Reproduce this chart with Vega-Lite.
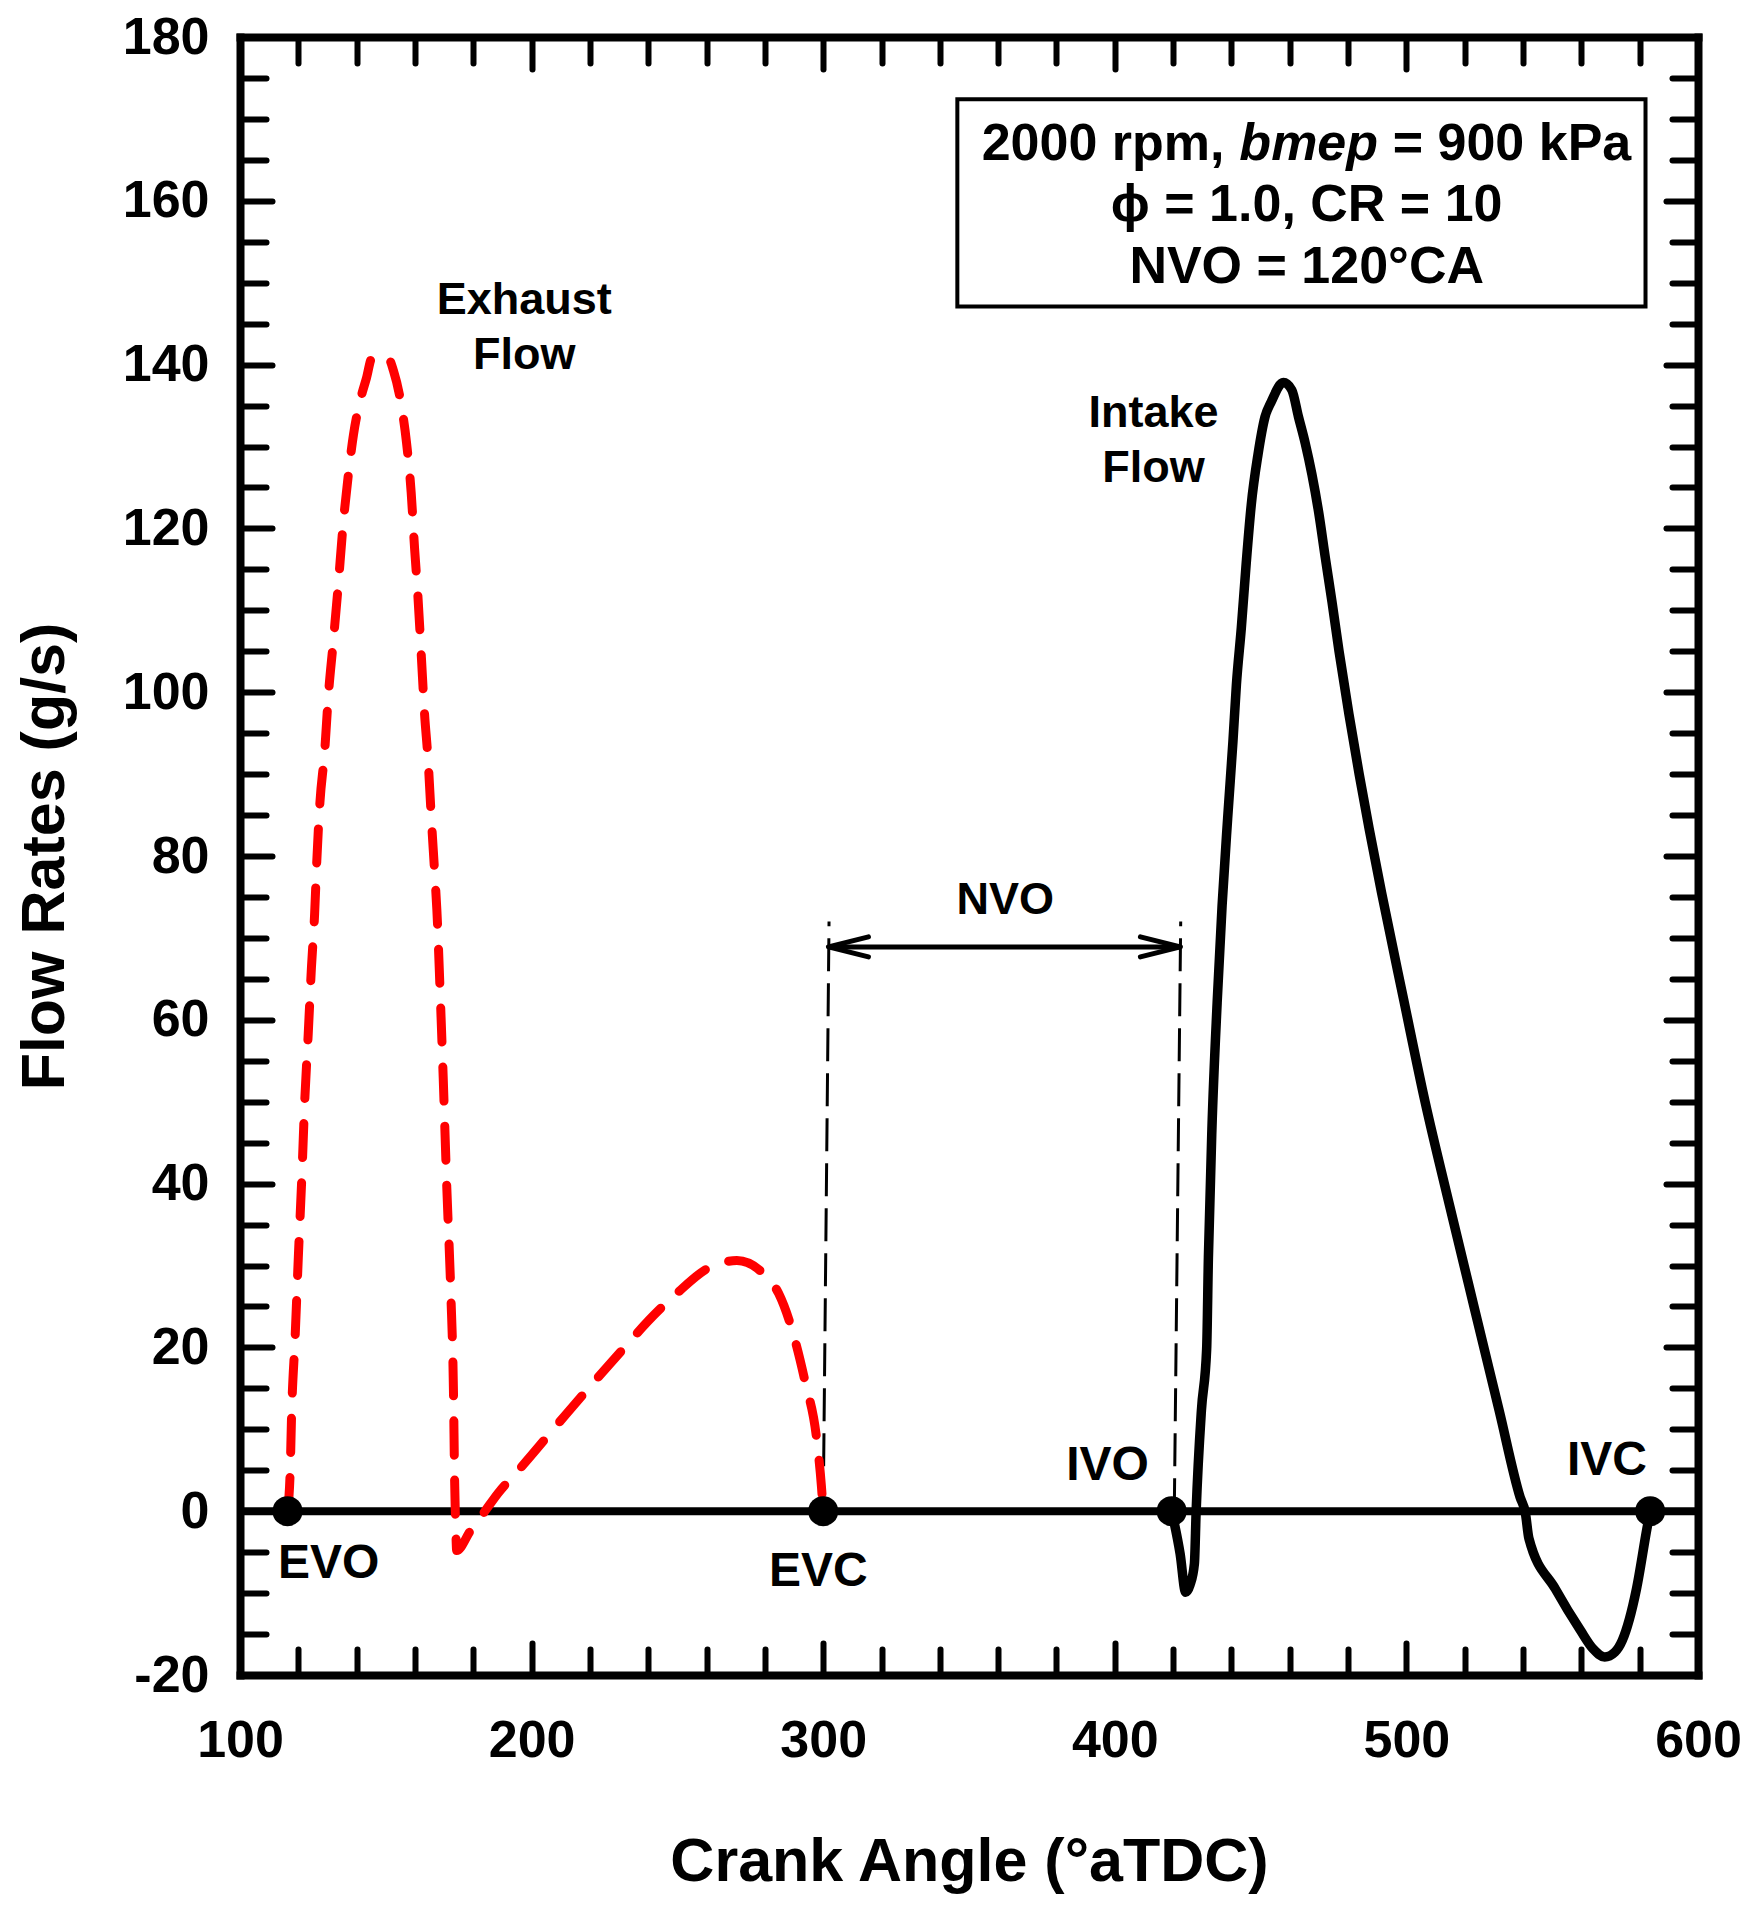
{
  "$schema": "https://vega.github.io/schema/vega-lite/v6.json",
  "width": 1458,
  "height": 1638,
  "autosize": "none",
  "padding": {"left": 240, "top": 37, "right": 59, "bottom": 233},
  "background": "white",
  "config": {
    "view": {"stroke": null},
    "axis": {
      "grid": false,
      "domainColor": "black",
      "domainWidth": 8,
      "domainCap": "square",
      "tickColor": "black",
      "tickWidth": 6,
      "tickCap": "round",
      "labelColor": "black",
      "labelFont": "Liberation Sans",
      "labelFontSize": 52,
      "labelFontWeight": "bold",
      "titleColor": "black",
      "titleFont": "Liberation Sans",
      "titleFontSize": 61,
      "titleFontWeight": "bold",
      "labelOverlap": false,
      "labelFlush": false,
      "labelBound": false
    },
    "text": {"font": "Liberation Sans", "fontWeight": "bold", "color": "black", "baseline": "middle"}
  },
  "datasets": {
    "exhaust": [
      {"angle":116.3,"flow":0},{"angle":117.2,"flow":4.8},{"angle":117.7,"flow":11.9},{"angle":118.9,"flow":21.2},{"angle":120,"flow":31},{"angle":121.2,"flow":40.8},{"angle":122.2,"flow":50.1},{"angle":123.4,"flow":58.3},{"angle":124.5,"flow":66.4},{"angle":125.6,"flow":73},{"angle":126.3,"flow":79.1},{"angle":127.4,"flow":86.5},{"angle":129,"flow":92.6},{"angle":130.3,"flow":99.6},{"angle":132,"flow":106.2},{"angle":133.6,"flow":112.7},{"angle":135.3,"flow":120.2},{"angle":137.2,"flow":126.7},{"angle":138.9,"flow":131.4},{"angle":141.2,"flow":135.6},{"angle":143.4,"flow":138.4},{"angle":145.2,"flow":140.8},{"angle":148,"flow":141.1},{"angle":150.9,"flow":140.8},{"angle":152.6,"flow":139.3},{"angle":155.3,"flow":135.1},{"angle":157.1,"flow":130.5},{"angle":158.7,"flow":124.4},{"angle":159.9,"flow":117.4},{"angle":161,"flow":111.8},{"angle":162.2,"flow":104.3},{"angle":163.3,"flow":97.3},{"angle":164.5,"flow":91.7},{"angle":165.6,"flow":84.7},{"angle":166.8,"flow":77.7},{"angle":167.5,"flow":73.5},{"angle":168.6,"flow":63.7},{"angle":169.7,"flow":52.8},{"angle":170.9,"flow":39.7},{"angle":172.3,"flow":26.6},{"angle":173.2,"flow":14.7},{"angle":173.6,"flow":3.8},{"angle":174,"flow":-2.2},{"angle":174.3,"flow":-4.8},{"angle":179,"flow":-2.4},{"angle":184,"flow":0},{"angle":188.5,"flow":2.2},{"angle":196,"flow":5.2},{"angle":211.5,"flow":11.7},{"angle":226.9,"flow":18},{"angle":243.5,"flow":24.5},{"angle":249.8,"flow":26.6},{"angle":261.2,"flow":29.8},{"angle":270.4,"flow":30.6},{"angle":279.5,"flow":29},{"angle":284.7,"flow":26.6},{"angle":289.2,"flow":22.3},{"angle":293.8,"flow":15.8},{"angle":297.8,"flow":8.7},{"angle":299.4,"flow":3},{"angle":300,"flow":0}
    ],
    "intake": [
      {"angle":419.5,"flow":0},{"angle":422.4,"flow":-5.2},{"angle":424.3,"flow":-9.9},{"angle":425.8,"flow":-9},{"angle":427.3,"flow":-6.4},{"angle":427.9,"flow":0},{"angle":429.7,"flow":12.3},{"angle":431.5,"flow":19.8},{"angle":432.1,"flow":31},{"angle":433.3,"flow":46.6},{"angle":435.1,"flow":62.1},{"angle":436.8,"flow":74},{"angle":438.7,"flow":84.6},{"angle":440.5,"flow":93.9},{"angle":441.7,"flow":100.9},{"angle":443.4,"flow":107.9},{"angle":445.1,"flow":115.9},{"angle":446.8,"flow":122.9},{"angle":449.1,"flow":129},{"angle":451.5,"flow":133.6},{"angle":453.7,"flow":135.5},{"angle":457.8,"flow":137.8},{"angle":460.7,"flow":136.9},{"angle":463,"flow":133.6},{"angle":465.3,"flow":130.4},{"angle":467.6,"flow":126.6},{"angle":469.9,"flow":122},{"angle":472.2,"flow":116.4},{"angle":474.5,"flow":111},{"angle":476.9,"flow":105},{"angle":480.3,"flow":97.3},{"angle":483.8,"flow":90},{"angle":487.3,"flow":83.2},{"angle":491.5,"flow":75.5},{"angle":499.1,"flow":62.4},{"angle":506.4,"flow":50},{"angle":514.9,"flow":37.2},{"angle":523.3,"flow":24.8},{"angle":531.8,"flow":12.3},{"angle":539,"flow":1.7},{"angle":540.8,"flow":-0.2},{"angle":542,"flow":-3.3},{"angle":551.1,"flow":-9.5},{"angle":559.6,"flow":-14.5},{"angle":564,"flow":-16.8},{"angle":568,"flow":-17.8},{"angle":571.5,"flow":-17.2},{"angle":574,"flow":-15.8},{"angle":578.9,"flow":-9.5},{"angle":582.5,"flow":-2.1},{"angle":583.6,"flow":0}
    ],
    "zero": [{"a1":100,"a2":600,"f":0}],
    "markers": [{"a1":300,"a2":302,"f1":0,"f2":72},{"a1":420.4,"a2":422.6,"f1":0,"f2":72}],
    "arrow": [{"a1":301.8,"a2":422.5,"f":68.9}],
    "heads": [{"angle":301.8,"flow":68.9,"dir":"left"},{"angle":422.5,"flow":68.9,"dir":"right"}],
    "dots": [{"angle":116.3,"flow":0},{"angle":300,"flow":0},{"angle":419.5,"flow":0},{"angle":583.6,"flow":0}],
    "box": [{"a1":346,"a2":582,"f1":147.1,"f2":172.4}],
    "annot": [
      {"angle":197.5,"flow":147.9,"label":"Exhaust"},
      {"angle":197.5,"flow":141.2,"label":"Flow"},
      {"angle":413.3,"flow":134.1,"label":"Intake"},
      {"angle":413.3,"flow":127.4,"label":"Flow"},
      {"angle":362.4,"flow":74.6,"label":"NVO"}
    ],
    "events": [
      {"angle":130.4,"flow":-6.5,"label":"EVO"},
      {"angle":298.3,"flow":-7.4,"label":"EVC"},
      {"angle":397.5,"flow":5.5,"label":"IVO"},
      {"angle":568.75,"flow":6.1,"label":"IVC"}
    ],
    "boxcenter": [
      {"angle":465.8,"flow":159.5,"label":"ϕ = 1.0, CR = 10"},
      {"angle":465.8,"flow":151.9,"label":"NVO = 120°CA"}
    ],
    "boxleft": [{"angle":437.6,"flow":166.9,"label":"2000 rpm,"}],
    "boxitalic": [{"angle":466.5,"flow":166.9,"label":"bmep"}],
    "boxright": [{"angle":495.3,"flow":166.9,"label":"= 900 kPa"}]
  },
  "resolve": {"axis": {"x": "independent", "y": "independent"}},
  "layer": [
    {
      "data": {"name": "box"},
      "mark": {"type": "rect", "fill": "white", "stroke": "black", "strokeWidth": 4},
      "encoding": {
        "x": {"field": "a1", "type": "quantitative", "scale": {"domain": [100, 600], "nice": false, "zero": false}, "axis": null},
        "x2": {"field": "a2"},
        "y": {"field": "f1", "type": "quantitative", "scale": {"domain": [-20, 180], "nice": false, "zero": false}, "axis": null},
        "y2": {"field": "f2"}
      }
    },
    {
      "data": {"name": "zero"},
      "mark": {"type": "rule", "color": "black", "strokeWidth": 8},
      "encoding": {
        "x": {"field": "a1", "type": "quantitative", "scale": {"domain": [100, 600], "nice": false, "zero": false}, "axis": null},
        "x2": {"field": "a2"},
        "y": {"field": "f", "type": "quantitative", "scale": {"domain": [-20, 180], "nice": false, "zero": false}, "axis": null}
      }
    },
    {
      "data": {"name": "markers"},
      "mark": {"type": "rule", "color": "black", "strokeWidth": 3, "strokeDash": [33, 12]},
      "encoding": {
        "x": {"field": "a1", "type": "quantitative", "scale": {"domain": [100, 600], "nice": false, "zero": false}, "axis": null},
        "x2": {"field": "a2"},
        "y": {"field": "f1", "type": "quantitative", "scale": {"domain": [-20, 180], "nice": false, "zero": false}, "axis": null},
        "y2": {"field": "f2"}
      }
    },
    {
      "data": {"name": "arrow"},
      "mark": {"type": "rule", "color": "black", "strokeWidth": 5},
      "encoding": {
        "x": {"field": "a1", "type": "quantitative", "scale": {"domain": [100, 600], "nice": false, "zero": false}, "axis": null},
        "x2": {"field": "a2"},
        "y": {"field": "f", "type": "quantitative", "scale": {"domain": [-20, 180], "nice": false, "zero": false}, "axis": null}
      }
    },
    {
      "data": {"name": "heads"},
      "mark": {"type": "point", "filled": false, "color": "black", "opacity": 1, "size": 1600, "strokeWidth": 5, "strokeCap": "round", "strokeJoin": "round"},
      "encoding": {
        "x": {"field": "angle", "type": "quantitative", "scale": {"domain": [100, 600], "nice": false, "zero": false}, "axis": null},
        "y": {"field": "flow", "type": "quantitative", "scale": {"domain": [-20, 180], "nice": false, "zero": false}, "axis": null},
        "shape": {"field": "dir", "type": "nominal", "legend": null, "scale": {"domain": ["left", "right"], "range": ["M2,-0.5 L0,0 L2,0.5", "M-2,-0.5 L0,0 L-2,0.5"]}}
      }
    },
    {
      "data": {"name": "exhaust"},
      "mark": {"type": "line", "color": "#ff0000", "strokeWidth": 9, "strokeDash": [34, 25], "strokeCap": "round", "interpolate": "monotone"},
      "encoding": {
        "x": {
          "field": "angle", "type": "quantitative",
          "scale": {"domain": [100, 600], "nice": false, "zero": false},
          "axis": {
            "orient": "bottom",
            "values": [100,120,140,160,180,200,220,240,260,280,300,320,340,360,380,400,420,440,460,480,500,520,540,560,580,600],
            "labelExpr": "datum.value % 100 === 0 ? '' + datum.value : ''",
            "tickSize": {"condition": {"test": "datum.value % 100 === 0", "value": -32}, "value": -26},
            "labelPadding": 72,
            "labelBaseline": "top",
            "title": "Crank Angle (°aTDC)",
            "titleX": 729,
            "titleY": 205,
            "titleBaseline": "alphabetic",
            "titleAnchor": "middle"
          }
        },
        "y": {
          "field": "flow", "type": "quantitative",
          "scale": {"domain": [-20, 180], "nice": false, "zero": false},
          "axis": {
            "orient": "left",
            "values": [-20,-15,-10,-5,0,5,10,15,20,25,30,35,40,45,50,55,60,65,70,75,80,85,90,95,100,105,110,115,120,125,130,135,140,145,150,155,160,165,170,175,180],
            "labelExpr": "datum.value % 20 === 0 ? '' + datum.value : ''",
            "tickSize": {"condition": {"test": "datum.value % 20 === 0", "value": -32}, "value": -26},
            "labelPadding": 63,
            "labelBaseline": "middle",
            "title": "Flow Rates (g/s)",
            "titleX": -177,
            "titleY": 819,
            "titleAngle": 270,
            "titleBaseline": "alphabetic",
            "titleAnchor": "middle"
          }
        }
      }
    },
    {
      "data": {"name": "intake"},
      "mark": {"type": "line", "color": "black", "strokeWidth": 9.5, "strokeJoin": "round", "strokeCap": "round", "interpolate": "monotone"},
      "encoding": {
        "x": {
          "field": "angle", "type": "quantitative",
          "scale": {"domain": [100, 600], "nice": false, "zero": false},
          "axis": {
            "orient": "top",
            "values": [100,120,140,160,180,200,220,240,260,280,300,320,340,360,380,400,420,440,460,480,500,520,540,560,580,600],
            "labels": false,
            "title": null,
            "tickSize": {"condition": {"test": "datum.value % 100 === 0", "value": -32}, "value": -26}
          }
        },
        "y": {
          "field": "flow", "type": "quantitative",
          "scale": {"domain": [-20, 180], "nice": false, "zero": false},
          "axis": {
            "orient": "right",
            "values": [-20,-15,-10,-5,0,5,10,15,20,25,30,35,40,45,50,55,60,65,70,75,80,85,90,95,100,105,110,115,120,125,130,135,140,145,150,155,160,165,170,175,180],
            "labels": false,
            "title": null,
            "tickSize": {"condition": {"test": "datum.value % 20 === 0", "value": -32}, "value": -26}
          }
        }
      }
    },
    {
      "data": {"name": "dots"},
      "mark": {"type": "point", "shape": "circle", "filled": true, "color": "black", "opacity": 1, "size": 908},
      "encoding": {
        "x": {"field": "angle", "type": "quantitative", "scale": {"domain": [100, 600], "nice": false, "zero": false}, "axis": null},
        "y": {"field": "flow", "type": "quantitative", "scale": {"domain": [-20, 180], "nice": false, "zero": false}, "axis": null}
      }
    },
    {
      "data": {"name": "annot"},
      "mark": {"type": "text", "fontSize": 45, "align": "center"},
      "encoding": {
        "x": {"field": "angle", "type": "quantitative", "scale": {"domain": [100, 600], "nice": false, "zero": false}, "axis": null},
        "y": {"field": "flow", "type": "quantitative", "scale": {"domain": [-20, 180], "nice": false, "zero": false}, "axis": null},
        "text": {"field": "label"}
      }
    },
    {
      "data": {"name": "events"},
      "mark": {"type": "text", "fontSize": 48, "align": "center"},
      "encoding": {
        "x": {"field": "angle", "type": "quantitative", "scale": {"domain": [100, 600], "nice": false, "zero": false}, "axis": null},
        "y": {"field": "flow", "type": "quantitative", "scale": {"domain": [-20, 180], "nice": false, "zero": false}, "axis": null},
        "text": {"field": "label"}
      }
    },
    {
      "data": {"name": "boxcenter"},
      "mark": {"type": "text", "fontSize": 52, "align": "center"},
      "encoding": {
        "x": {"field": "angle", "type": "quantitative", "scale": {"domain": [100, 600], "nice": false, "zero": false}, "axis": null},
        "y": {"field": "flow", "type": "quantitative", "scale": {"domain": [-20, 180], "nice": false, "zero": false}, "axis": null},
        "text": {"field": "label"}
      }
    },
    {
      "data": {"name": "boxleft"},
      "mark": {"type": "text", "fontSize": 52, "align": "right"},
      "encoding": {
        "x": {"field": "angle", "type": "quantitative", "scale": {"domain": [100, 600], "nice": false, "zero": false}, "axis": null},
        "y": {"field": "flow", "type": "quantitative", "scale": {"domain": [-20, 180], "nice": false, "zero": false}, "axis": null},
        "text": {"field": "label"}
      }
    },
    {
      "data": {"name": "boxitalic"},
      "mark": {"type": "text", "fontSize": 52, "align": "center", "fontStyle": "italic"},
      "encoding": {
        "x": {"field": "angle", "type": "quantitative", "scale": {"domain": [100, 600], "nice": false, "zero": false}, "axis": null},
        "y": {"field": "flow", "type": "quantitative", "scale": {"domain": [-20, 180], "nice": false, "zero": false}, "axis": null},
        "text": {"field": "label"}
      }
    },
    {
      "data": {"name": "boxright"},
      "mark": {"type": "text", "fontSize": 52, "align": "left"},
      "encoding": {
        "x": {"field": "angle", "type": "quantitative", "scale": {"domain": [100, 600], "nice": false, "zero": false}, "axis": null},
        "y": {"field": "flow", "type": "quantitative", "scale": {"domain": [-20, 180], "nice": false, "zero": false}, "axis": null},
        "text": {"field": "label"}
      }
    }
  ]
}
